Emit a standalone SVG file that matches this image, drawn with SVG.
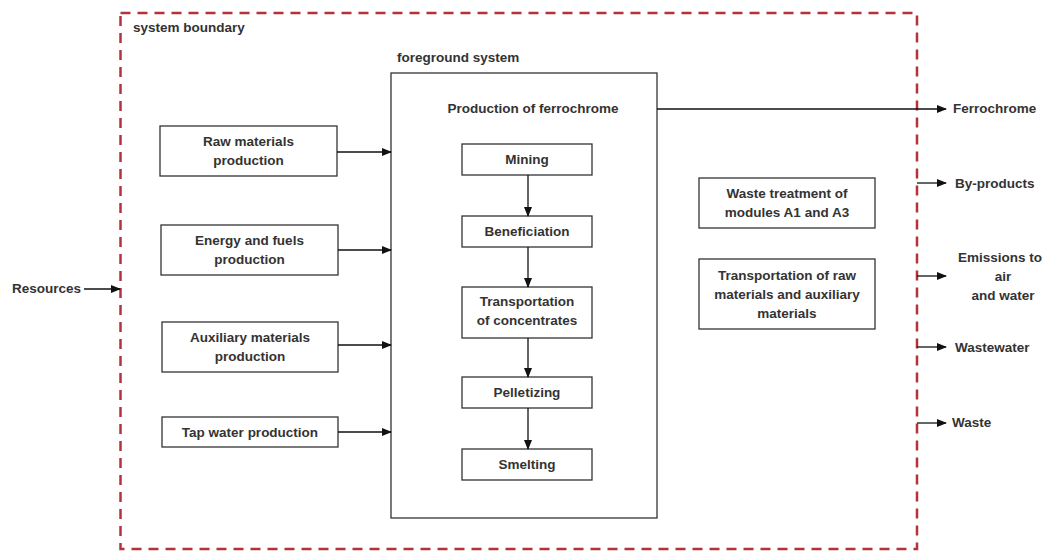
<svg xmlns="http://www.w3.org/2000/svg" width="1047" height="553" viewBox="0 0 1047 553">
<style>
text{font-family:"Liberation Sans",Arial,sans-serif;font-weight:bold;font-size:13.5px;fill:#333}
.c{text-anchor:middle}
.box{fill:#fff;stroke:#333;stroke-width:1.3}
.ln{stroke:#111;stroke-width:1.3;fill:none}
</style>
<defs>
<marker id="ah" markerWidth="10" markerHeight="8" refX="9" refY="4" orient="auto" markerUnits="userSpaceOnUse">
<path d="M0,0 L10,4 L0,8 Z" fill="#111"/>
</marker>
</defs>
<rect width="1047" height="553" fill="#fff"/>
<g id="boundary">
<rect x="120.5" y="13" width="796.5" height="536" fill="none" stroke="#b3333d" stroke-width="2.5" stroke-dasharray="10,7"/>
<text x="133" y="32">system boundary</text>
</g>
<g id="foreground">
<rect class="box" x="391" y="73" width="266" height="445"/>
<text x="397" y="62">foreground system</text>
<text class="c" x="533" y="113">Production of ferrochrome</text>
</g>
<g id="raw"><rect class="box" x="160" y="126" width="177" height="50"/><text class="c" x="248.5" y="146">Raw materials</text><text class="c" x="248.5" y="165">production</text></g>
<g id="energy"><rect class="box" x="161" y="225" width="177" height="50"/><text class="c" x="249.5" y="245">Energy and fuels</text><text class="c" x="249.5" y="264">production</text></g>
<g id="aux"><rect class="box" x="162" y="322" width="176" height="50"/><text class="c" x="250" y="342">Auxiliary materials</text><text class="c" x="250" y="361">production</text></g>
<g id="tap"><rect class="box" x="162" y="417" width="176" height="30"/><text class="c" x="250" y="437">Tap water production</text></g>
<g id="mining"><rect class="box" x="462" y="144" width="130" height="31"/><text class="c" x="527" y="164">Mining</text></g>
<g id="benef"><rect class="box" x="462" y="216" width="130" height="31"/><text class="c" x="527" y="236">Beneficiation</text></g>
<g id="transp"><rect class="box" x="462" y="287" width="130" height="51"/><text class="c" x="527" y="306">Transportation</text><text class="c" x="527" y="325">of concentrates</text></g>
<g id="pellet"><rect class="box" x="462" y="377" width="130" height="31"/><text class="c" x="527" y="397">Pelletizing</text></g>
<g id="smelt"><rect class="box" x="462" y="449" width="130" height="31"/><text class="c" x="527" y="469">Smelting</text></g>
<g id="waste_treat"><rect class="box" x="699" y="178" width="176" height="50"/><text class="c" x="787" y="198">Waste treatment of</text><text class="c" x="787" y="217">modules A1 and A3</text></g>
<g id="transp_raw"><rect class="box" x="699" y="259" width="176" height="70"/><text class="c" x="787" y="280">Transportation of raw</text><text class="c" x="787" y="299">materials and auxiliary</text><text class="c" x="787" y="318">materials</text></g>
<g id="resources"><text x="12" y="293">Resources</text></g>
<g id="outputs">
<text x="953" y="113">Ferrochrome</text>
<text x="955" y="188">By-products</text>
<text class="c" x="1000" y="262">Emissions to</text>
<text class="c" x="1003" y="281">air</text>
<text class="c" x="1003" y="300">and water</text>
<text x="955" y="352">Wastewater</text>
<text x="952" y="427">Waste</text>
</g>
<g id="connectors">
<path class="ln" marker-end="url(#ah)" d="M84,289 H120"/>
<path class="ln" marker-end="url(#ah)" d="M337,152 H391"/>
<path class="ln" marker-end="url(#ah)" d="M338,250 H391"/>
<path class="ln" marker-end="url(#ah)" d="M338,345 H391"/>
<path class="ln" marker-end="url(#ah)" d="M338,432 H391"/>
<path class="ln" marker-end="url(#ah)" d="M528,175 V216"/>
<path class="ln" marker-end="url(#ah)" d="M528,247 V287"/>
<path class="ln" marker-end="url(#ah)" d="M528,338 V377"/>
<path class="ln" marker-end="url(#ah)" d="M528,408 V449"/>
<path class="ln" marker-end="url(#ah)" d="M657,109 H946"/>
<path class="ln" marker-end="url(#ah)" d="M917,183 H946"/>
<path class="ln" marker-end="url(#ah)" d="M917,276 H946"/>
<path class="ln" marker-end="url(#ah)" d="M917,347 H946"/>
<path class="ln" marker-end="url(#ah)" d="M917,423 H946"/>
</g>
</svg>
